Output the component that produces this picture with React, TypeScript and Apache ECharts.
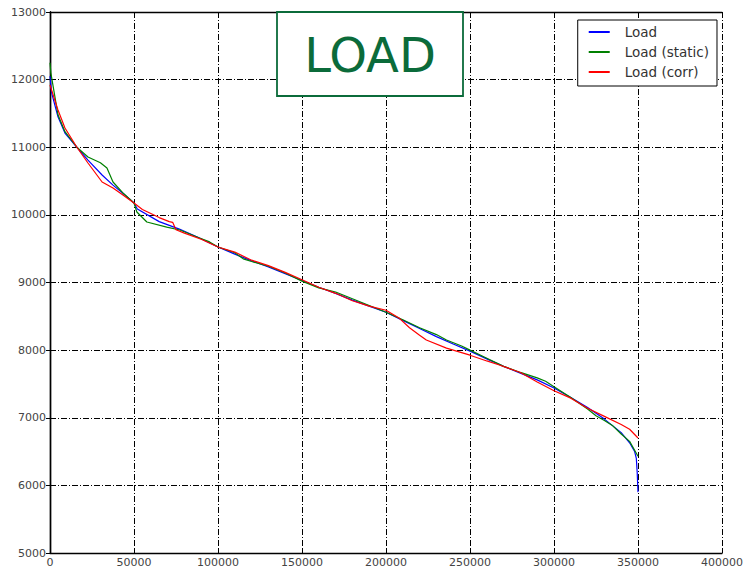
import React, { useEffect, useRef } from "react";
import * as echarts from "echarts";

// Load duration curves: [hour index, load]
const loadPoints: [number, number][] = [
  [0, 12050], [1000, 11800], [4750, 11450], [8900, 11210], [16000, 11000],
  [22600, 10810], [31000, 10590], [37500, 10440], [43400, 10320], [50000, 10175],
  [52000, 10087], [65000, 9900], [77000, 9790], [89000, 9658], [100000, 9525],
  [110000, 9420], [120000, 9320], [130000, 9230], [140000, 9130], [150000, 9030],
  [160000, 8930], [170000, 8840], [180000, 8740], [190000, 8650], [200000, 8560],
  [210000, 8440], [220000, 8320], [230000, 8200], [240000, 8090], [250000, 7985],
  [260000, 7870], [270000, 7760], [280000, 7660], [290000, 7560], [300000, 7440],
  [310000, 7300], [320000, 7150], [330000, 6980], [340000, 6780], [345000, 6630],
  [348000, 6500], [349000, 6400], [349500, 6200], [350000, 5900],
];

const staticPoints: [number, number][] = [
  [0, 12250], [500, 12100], [4750, 11480], [8900, 11230], [16000, 11000],
  [22600, 10856], [30000, 10770], [33900, 10693], [37500, 10486], [43400, 10324],
  [50000, 10175], [51700, 10043], [57650, 9895], [69500, 9820], [77300, 9776],
  [89000, 9658], [95000, 9600], [100000, 9525], [110000, 9440], [115000, 9350],
  [120000, 9310], [130000, 9240], [140000, 9140], [150000, 9020], [160000, 8920],
  [170000, 8860], [180000, 8760], [190000, 8660], [200000, 8560], [210000, 8450],
  [220000, 8330], [230000, 8230], [236000, 8150], [245000, 8060], [250000, 8000],
  [260000, 7880], [270000, 7760], [280000, 7670], [290000, 7590], [295000, 7540],
  [300000, 7460], [310000, 7300], [320000, 7130], [325000, 7030], [330000, 6960],
  [335000, 6880], [340000, 6760], [345000, 6650], [350000, 6430],
];

const corrPoints: [number, number][] = [
  [0, 11920], [4750, 11550], [8900, 11285], [16000, 11000], [22600, 10767],
  [31000, 10486], [37500, 10397], [43400, 10293], [50000, 10175], [55000, 10080],
  [65000, 9960], [71000, 9900], [73000, 9890], [75000, 9780], [80000, 9730],
  [90000, 9640], [100000, 9525], [110000, 9450], [120000, 9330], [130000, 9250],
  [140000, 9150], [150000, 9040], [160000, 8930], [170000, 8840], [180000, 8730],
  [190000, 8650], [200000, 8590], [208000, 8470], [214000, 8330], [220000, 8220],
  [224000, 8150], [236000, 8030], [250000, 7925], [260000, 7840], [267500, 7780],
  [280000, 7670], [290000, 7530], [300000, 7400], [310000, 7290], [320000, 7140],
  [330000, 7020], [340000, 6900], [345000, 6830], [350000, 6700],
];

const seriesNames = ["Load", "Load (static)", "Load (corr)"];
const seriesColors = ["#0000ff", "#008000", "#ff0000"];
const titleText = "LOAD";

const FONT = "DejaVu Sans";
const dashDot = [6, 2, 1, 2];

export default function App() {
  const ref = useRef<HTMLDivElement>(null);

  useEffect(() => {
    if (!ref.current) return;
    const chart = echarts.init(ref.current, undefined, { renderer: "svg" });

    const baseX = {
      type: "value" as const,
      min: 0,
      max: 400000,
      interval: 50000,
    };
    const baseY = {
      type: "value" as const,
      min: 5000,
      max: 13000,
      interval: 1000,
    };
    const frame = { show: true, lineStyle: { color: "#000", width: 1.4 } };
    const tick = { show: true, inside: true, length: 4, lineStyle: { color: "#000", width: 1 } };
    const label = {
      color: "#444",
      fontFamily: FONT,
      fontSize: 11,
      margin: 4,
      formatter: (v: number) => String(v),
    };

    const dataSets = [loadPoints, staticPoints, corrPoints];

    chart.setOption({
      animation: false,
      backgroundColor: "#fff",
      grid: { left: 50, right: 23, top: 12, bottom: 16, containLabel: false },
      xAxis: [
        {
          ...baseX,
          position: "bottom",
          axisLine: frame,
          axisTick: tick,
          axisLabel: label,
          splitLine: { show: true, lineStyle: { color: "#000", width: 1, type: dashDot } },
        },
        {
          ...baseX,
          position: "top",
          axisLine: frame,
          axisTick: tick,
          axisLabel: { show: false },
          splitLine: { show: false },
        },
      ],
      yAxis: [
        {
          ...baseY,
          position: "left",
          axisLine: frame,
          axisTick: tick,
          axisLabel: label,
          splitLine: { show: true, lineStyle: { color: "#000", width: 1, type: dashDot } },
        },
        {
          ...baseY,
          position: "right",
          axisLine: frame,
          axisTick: tick,
          axisLabel: { show: false },
          splitLine: { show: false },
        },
      ],
      legend: {
        orient: "vertical",
        right: 29,
        top: 20,
        backgroundColor: "#fff",
        borderColor: "#000",
        borderWidth: 1,
        borderRadius: 0,
        padding: [5, 8, 7, 10],
        itemWidth: 21,
        itemHeight: 14,
        itemGap: 6,
        itemStyle: { opacity: 0 },
        textStyle: { fontFamily: FONT, fontSize: 13.5, color: "#333", padding: [0, 0, 0, 10] },
        data: seriesNames,
      },
      graphic: [
        {
          type: "rect",
          z: 100,
          shape: { x: 277, y: 12, width: 186, height: 84 },
          style: { fill: "#fff", stroke: "#0b6b3a", lineWidth: 1.8 },
        },
        {
          type: "text",
          z: 101,
          x: 370,
          y: 55,
          style: {
            text: titleText,
            fill: "#0b6b3a",
            font: `48px "${FONT}"`,
            align: "center",
            verticalAlign: "middle",
          },
        },
      ],
      series: dataSets.map((d, i) => ({
        name: seriesNames[i],
        type: "line",
        data: d,
        symbol: "none",
        smooth: false,
        lineStyle: { color: seriesColors[i], width: 1.2 },
        itemStyle: { color: seriesColors[i] },
        z: 3 + i,
      })),
    });

    return () => chart.dispose();
  }, []);

  return (
    <div
      ref={ref}
      style={{ position: "fixed", left: 0, top: 0, width: 746, height: 569 }}
    />
  );
}
